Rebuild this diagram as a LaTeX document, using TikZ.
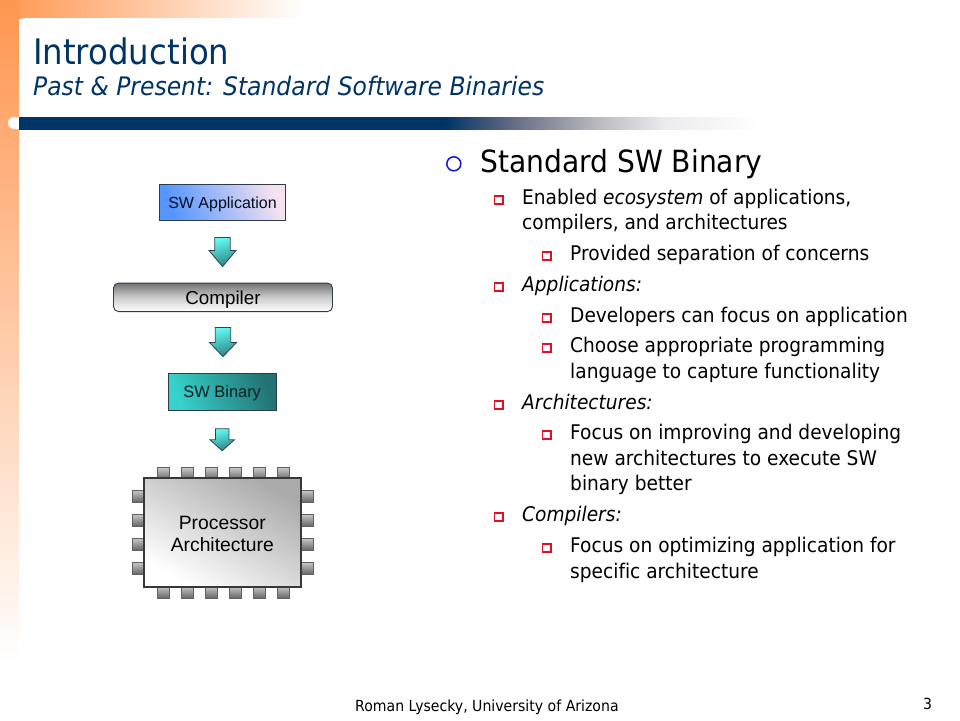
\documentclass[tikz,border=0pt]{standalone}
\usepackage{fontspec}
\usetikzlibrary{calc}
\setmainfont{DejaVu Sans}[FakeStretch=0.92,Ligatures=NoCommon]
\newfontfamily\labelfont{Liberation Sans}
\definecolor{navy}{RGB}{0,51,102}
\definecolor{peach}{RGB}{255,150,80}
\definecolor{bulletred}{RGB}{225,15,35}
\definecolor{bulletblue}{RGB}{20,20,220}
\definecolor{edge}{RGB}{45,60,75}
\definecolor{appa}{RGB}{85,150,255}
\definecolor{appb}{RGB}{245,225,240}
\definecolor{bina}{RGB}{55,210,205}
\definecolor{binb}{RGB}{35,115,115}
\definecolor{arra}{RGB}{100,250,245}
\definecolor{arrb}{RGB}{45,130,130}
\definecolor{bara}{RGB}{105,110,135}
\definecolor{barb}{RGB}{185,185,190}
\definecolor{barc}{RGB}{235,235,238}
\pgfdeclareverticalshading{leftband}{100bp}{color(0bp)=(white); color(29bp)=(white); color(75bp)=(peach); color(100bp)=(peach)}
\pgfdeclarehorizontalshading{barfade}{100bp}{color(0bp)=(navy); color(53.7bp)=(navy); color(58.5bp)=(bara); color(64bp)=(barb); color(68.5bp)=(barc); color(75bp)=(white); color(100bp)=(white)}
\tikzset{
  x=1pt,y=-1pt,
  titletext/.style={anchor=base west,inner sep=0pt,text=navy},
  big/.style={anchor=base west,inner sep=0pt,font=\fontsize{30.6}{34}\selectfont},
  body/.style={anchor=base west,inner sep=0pt,font=\fontsize{20.2}{24}\selectfont},
  redbullet/.style={draw=bulletred,line width=1.6pt,fill=white,minimum size=8.5pt,inner sep=0pt,rectangle},
  boxlabel/.style={text=black,align=center,inner sep=0pt},
  appbox/.style={rectangle,draw=edge,line width=.9pt,minimum width=126pt,minimum height=36.5pt,boxlabel,text=black!70!navy,font=\labelfont\fontsize{16}{18}\selectfont,
     text height=11.5pt,text depth=0pt,
     top color=appa,bottom color=appb,shading angle=110},
  compbox/.style={rectangle,rounded corners=5pt,draw=edge,line width=.9pt,minimum width=219pt,minimum height=28.5pt,boxlabel,font=\labelfont\fontsize{18.8}{20}\selectfont,
     text height=13.5pt,text depth=0pt,
     top color=black!55,bottom color=white,middle color=black!20},
  binbox/.style={rectangle,draw=edge,line width=.9pt,minimum width=107.5pt,minimum height=36.5pt,boxlabel,text=black!75!teal,font=\labelfont\fontsize{16.4}{18}\selectfont,
     text height=12pt,text depth=0pt,
     top color=bina,bottom color=binb,shading angle=110},
  chipbox/.style={rectangle,draw=black!78,line width=2pt,minimum width=157.5pt,minimum height=109pt,boxlabel,
     top color=white,bottom color=black!33,shading angle=150},
  chiplabel/.style={boxlabel,font=\labelfont\fontsize{19.3}{22.7}\selectfont},
  pinbox/.style={rectangle,draw=black!62,line width=.7pt,minimum size=12.5pt,inner sep=0pt,top color=black!22,bottom color=black!62},
  arrowfill/.style={draw=edge!85!teal,line width=.8pt,top color=arra,bottom color=arrb,shading angle=15}
}
% #1 from node, #2 to node, #3 top gap, #4 bottom gap, #5 half shaft, #6 half head, #7 head y offset from top
\newcommand{\blockconn}[8]{%
  \path[arrowfill] let \p1=($(#1.south)+(0,#3)$), \p2=($(#2.north)+(0,-#4)$) in
   coordinate (#8top) at (\p1) coordinate (#8tip) at (\x1,\y2)
   ($(#8top)+(-#5,0)$) -- ($(#8top)+(#5,0)$) -- ($(#8top)+(#5,#7)$) -- ($(#8top)+(#6,#7)$)
   -- (#8tip) -- ($(#8top)+(-#6,#7)$) -- ($(#8top)+(-#5,#7)$) -- cycle;}
\begin{document}
\begin{tikzpicture}
\useasboundingbox (0,0) rectangle (960,720);
\fill[white] (0,0) rectangle (960,720);
% frame
\shade[left color=peach,right color=white] (0,0) rectangle (305,18);
\shade[shading=leftband] (0,0) rectangle (19,720);
\fill[white,rounded corners=6pt] (19,18) rectangle (980,740);
\fill[white,rounded corners=6pt] (8,117) rectangle (30,129);
\shade[shading=barfade] (19,117) rectangle (760,129);
% title
\node[titletext,font=\fontsize{35.2}{40}\selectfont] (title) at (33,64) {Introduction};
\node[titletext,font=\itshape\fontsize{25.5}{30}\selectfont] (subtitle) at (33,95) {Past \& Present: Standard Software Binaries};
% diagram
\node[appbox] (app) at (222.5,202.3) {SW Application};
\node[compbox] (comp) at (223,297.3) {Compiler};
\node[binbox] (bin) at (222.2,391.8) {SW Binary};
% pins
\foreach \i/\x in {1/163.5,2/187.5,3/211.5,4/235.5,5/259.5,6/283.5}{
  \node[pinbox] (pt\i) at (\x,474) {};
  \node[pinbox] (pb\i) at (\x,592.5) {};
}
\foreach \i/\y in {1/496.5,2/520.5,3/544.5,4/568.5}{
  \node[pinbox] (pl\i) at (138.5,\y) {};
  \node[pinbox] (pr\i) at (307.5,\y) {};
}
\node[chipbox] (chip) at (222.3,532) {};
\node[chiplabel] (chiptext) at ($(chip.center)+(0,2)$) {Processor\\Architecture};
\blockconn{app}{comp}{16.5}{16}{7.7}{13.5}{13}{aa}
\blockconn{comp}{bin}{15.5}{16.5}{7.7}{13.5}{15}{ab}
\blockconn{bin}{chip}{18.3}{25.8}{6.7}{12.2}{11}{ac}
% bullets
\draw[bulletblue,line width=1.5pt] (453.8,163.8) circle[radius=7];
\node[big] (h1) at (480,172.5) {Standard SW Binary};
\node[redbullet] (b1) at (498.8,200) {};
\node[body] (t1) at (522,204.5) {Enabled \textit{ecosystem} of applications,};
\node[body] (t1b) at (522,229.5) {compilers, and architectures};
\node[redbullet] (b2) at (546.8,256) {};
\node[body] (t2) at (570,260.5) {Provided separation of concerns};
\node[redbullet] (b3) at (498.8,287) {};
\node[body] (t3) at (522,291.5) {\textit{Applications:}};
\node[redbullet] (b4) at (546.8,318) {};
\node[body] (t4) at (570,322.5) {Developers can focus on application};
\node[redbullet] (b5) at (546.8,348) {};
\node[body] (t5) at (570,352.5) {Choose appropriate programming};
\node[body] (t5b) at (570,378.5) {language to capture functionality};
\node[redbullet] (b6) at (498.8,405) {};
\node[body] (t6) at (522,409.5) {\textit{Architectures:}};
\node[redbullet] (b7) at (546.8,435) {};
\node[body] (t7) at (570,439.5) {Focus on improving and developing};
\node[body] (t7b) at (570,465.5) {new architectures to execute SW};
\node[body] (t7c) at (570,490.5) {binary better};
\node[redbullet] (b8) at (498.8,517) {};
\node[body] (t8) at (522,521.5) {\textit{Compilers:}};
\node[redbullet] (b9) at (546.8,548) {};
\node[body] (t9) at (570,552.5) {Focus on optimizing application for};
\node[body] (t9b) at (570,578.5) {specific architecture};
% footer
\node[anchor=base west,inner sep=0pt,font=\fontsize{15.3}{19}\selectfont] (foot) at (355,711) {Roman Lysecky, University of Arizona};
\node[anchor=base west,inner sep=0pt,font=\fontsize{15.3}{19}\selectfont] (page) at (923,709) {3};
\end{tikzpicture}
\end{document}
